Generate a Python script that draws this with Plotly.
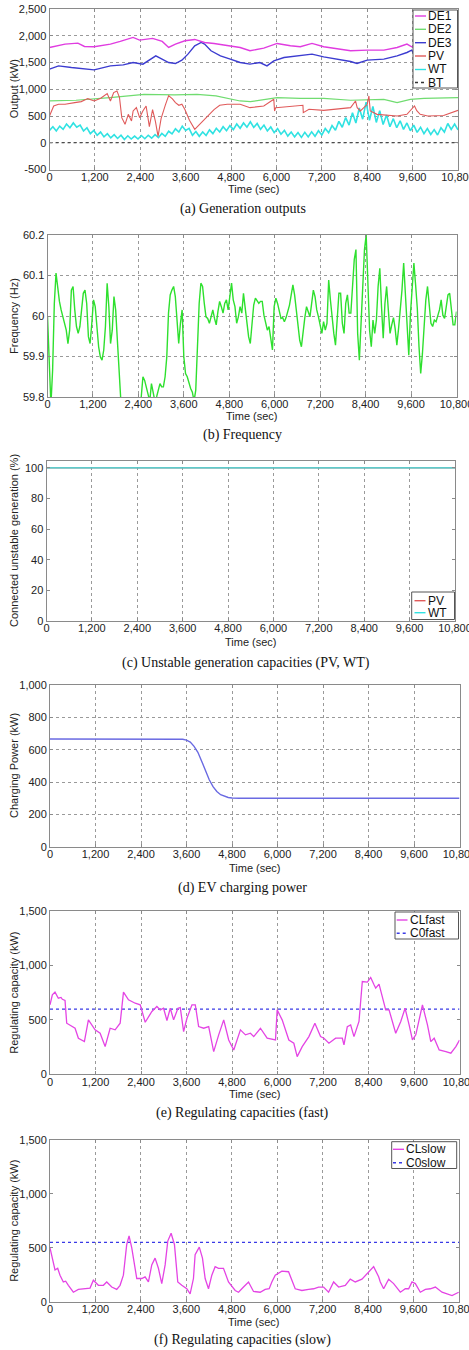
import plotly.graph_objects as go

W, H = 469, 1350

# ---------------- shared time axis ----------------
time_ticks = [0, 1200, 2400, 3600, 4800, 6000, 7200, 8400, 9600, 10800]
time_labels = ["0", "1,200", "2,400", "3,600", "4,800", "6,000", "7,200", "8,400", "9,600", "10,800"]

# ---------------- (a) Generation outputs ----------------
de1_t = [0, 410, 750, 925, 1180, 1610, 1870, 2170, 2210, 2380, 2725, 2980, 3150, 3330, 3580, 3840,
         4100, 4350, 4700, 5040, 5300, 5665, 6018, 6370, 6630, 6940, 7250, 7600, 7960, 8400, 8840,
         9190, 9450, 9577, 9800, 10200, 10800]
de1_kw = [1781, 1844, 1862, 1800, 1794, 1844, 1894, 1950, 1969, 1919, 1950, 1894, 1781, 1844, 1906, 1931,
          1875, 1856, 1812, 1781, 1719, 1769, 1856, 1812, 1794, 1856, 1794, 1750, 1719, 1731, 1731,
          1781, 1844, 1794, 1810, 1800, 1810]

de2_t = [0, 700, 1600, 2500, 3300, 3900, 4400, 5040, 5313, 6018, 6630, 7250, 7960, 8840, 9190, 9540,
         9900, 10400, 10800]
de2_kw = [781, 794, 844, 906, 894, 906, 875, 781, 769, 844, 831, 831, 794, 812, 750, 812,
          831, 844, 844]

de3_t = [0, 240, 580, 925, 1180, 1610, 1950, 2210, 2470, 2810, 3150, 3330, 3500, 3660, 3840, 4010,
         4100, 4270, 4520, 4780, 5040, 5300, 5560, 5750, 5930, 6200, 6630, 6940, 7250, 7600, 7960,
         8130, 8400, 8840, 9190, 9450, 9577, 9630, 10000, 10800]
de3_kw = [1375, 1437, 1406, 1375, 1362, 1437, 1456, 1500, 1469, 1625, 1500, 1481, 1544, 1656, 1812, 1875,
          1844, 1719, 1625, 1562, 1500, 1469, 1500, 1437, 1531, 1594, 1625, 1656, 1606, 1562, 1519,
          1481, 1544, 1562, 1625, 1687, 1731, 1669, 1650, 1650]

pv_t = [0, 51, 111, 240, 411, 668, 840, 1011, 1183, 1354, 1525, 1611, 1697, 1783, 1851, 1911, 1997,
        2083, 2168, 2211, 2297, 2382, 2468, 2554, 2640, 2725, 2800, 2870, 2950, 3060, 3150, 3250,
        3330, 3420, 3500, 3580, 3700, 3840, 4100, 4350, 4500, 4700, 5040, 5300, 5665, 5930, 5950,
        5980, 6200, 6630, 6700, 6710, 6860, 7250, 7600, 7960, 8090, 8135, 8220, 8400, 8445, 8480,
        8660, 9190, 9450, 9650, 9710, 9800, 10000, 10420, 10800]
pv_kw = [500, 594, 687, 719, 719, 750, 769, 825, 781, 831, 919, 781, 937, 969, 844, 469, 344,
         531, 406, 594, 656, 469, 594, 687, 300, 620, 400, 120, 450, 700, 880, 820,
         750, 700, 720, 620, 420, 250, 440, 620, 700, 719, 719, 656, 687, 812, 594,
         656, 669, 687, 700, 562, 625, 606, 625, 656, 781, 656, 594, 719, 875, 594,
         531, 500, 531, 687, 600, 531, 500, 510, 606]

wt_step = 90
wt_kw = [230, 300, 220, 310, 250, 350, 280, 370, 290, 330, 220, 280, 170, 230, 140, 200, 110, 170,
         90, 150, 80, 140, 60, 130, 70, 125, 70, 135, 75, 140, 85, 150, 95, 175, 120, 215,
         165, 260, 200, 310, 230, 270, 140, 210, 120, 200, 135, 240, 170, 270, 200, 300, 225, 320,
         245, 350, 270, 370, 290, 390, 285, 360, 250, 330, 220, 295, 190, 265, 160, 230, 125, 200,
         110, 190, 100, 195, 110, 205, 120, 225, 145, 265, 185, 320, 235, 400, 290, 470, 330, 560,
         370, 650, 440, 760, 420, 680, 380, 600, 340, 520, 300, 450, 280, 410, 250, 370, 225, 330,
         195, 290, 170, 265, 155, 245, 145, 280, 200, 360, 250, 350, 240]

bt_t = [0, 10800]
bt_kw = [0, 0]

# ---------------- (b) Frequency ----------------
freq_step = 45
freq_hz = [60.0, 59.899, 59.78, 59.866, 60.031, 60.106, 60.064, 60.036, 60.015, 59.998,
           59.982, 59.965, 59.932, 59.965, 60.064, 60.073, 60.015, 59.974, 59.957, 59.974,
           60.015, 60.056, 60.064, 60.031, 59.949, 59.932, 59.982, 60.040, 60.023, 59.974,
           59.924, 59.899, 59.891, 59.916, 59.974, 60.081, 60.023, 59.932, 59.965, 60.048,
           60.015, 59.940, 59.817, 59.75, 59.72, 59.70, 59.68, 59.70, 59.72, 59.71,
           59.69, 59.70, 59.72, 59.74, 59.76, 59.80, 59.850, 59.841, 59.825, 59.808,
           59.79, 59.833, 59.808, 59.79, 59.80, 59.817, 59.833, 59.825, 59.825, 59.850,
           59.899, 60.007, 60.052, 60.064, 60.073, 60.048, 59.998, 59.932, 59.982, 60.015,
           59.899, 59.858, 59.850, 59.833, 59.821, 59.812, 59.79, 59.817, 59.940, 60.031,
           60.081, 60.073, 60.031, 59.998, 59.994, 59.982, 59.998, 60.015, 59.994, 59.978,
           60.011, 60.036, 60.023, 60.007, 60.031, 60.040, 60.015, 60.048, 60.081, 60.040,
           60.023, 59.982, 59.998, 60.023, 60.007, 60.056, 60.023, 59.982, 59.949, 59.932,
           59.982, 60.027, 60.044, 60.036, 60.031, 60.036, 60.036, 60.002, 59.982, 59.965,
           59.974, 59.949, 59.916, 60.023, 60.044, 60.031, 60.011, 59.994, 59.996, 59.986,
           59.996, 60.011, 60.027, 60.052, 60.077, 60.052, 60.011, 59.969, 59.940, 59.924,
           59.965, 59.996, 60.023, 60.007, 59.998, 60.031, 60.064, 60.048, 60.015, 59.998,
           59.980, 59.957, 59.986, 59.965, 59.982, 60.089, 60.040, 59.990, 59.957, 59.928,
           59.990, 60.056, 60.056, 59.982, 59.957, 60.031, 60.052, 60.007, 60.007, 60.064,
           60.139, 60.164, 59.957, 59.891, 59.974, 60.048, 60.164, 60.200, 60.073, 59.965,
           59.924, 59.990, 59.957, 59.990, 60.073, 60.118, 60.023, 59.945, 60.031, 60.073,
           60.015, 59.957, 59.978, 59.996, 59.969, 59.928, 59.969, 60.015, 60.064, 60.131,
           60.048, 59.965, 59.903, 60.007, 60.073, 60.131, 60.077, 60.019, 59.924, 59.858,
           59.907, 59.974, 60.040, 60.073, 60.015, 59.982, 59.974, 59.990, 59.986, 59.998,
           60.015, 60.040, 60.002, 59.994, 60.031, 60.052, 60.056, 60.023, 59.978, 59.978,
           60.011]

# ---------------- (c) Unstable generation capacities ----------------
cap_t = [0, 10800]
cap_pv = [100, 100]
cap_wt = [100, 100]

# ---------------- (d) EV charging power ----------------
ev_t = [0, 3000, 3500, 3600, 3700, 3800, 3900, 4000, 4100, 4200, 4300, 4400, 4500, 4600, 4700,
        4800, 5000, 10800]
ev_kw = [667, 667, 666, 660, 648, 622, 585, 530, 470, 415, 372, 342, 322, 311, 305,
         302, 300, 300]

# ---------------- (e) Regulating capacities (fast) ----------------
clf_t = [0, 62, 132, 220, 291, 326, 396, 441, 661, 749, 907, 1013, 1189, 1322, 1454, 1586, 1718,
         1850, 1938, 2070, 2247, 2379, 2511, 2687, 2819, 2907, 2995, 3084, 3172, 3260, 3374, 3436,
         3524, 3612, 3744, 3832, 3920, 4053, 4185, 4317, 4449, 4581, 4713, 4846, 5022, 5155, 5286,
         5374, 5550, 5727, 5947, 5991, 6123, 6299, 6431, 6519, 6652, 6828, 6986, 7136, 7224, 7356,
         7533, 7709, 7753, 7841, 7929, 8017, 8149, 8237, 8370, 8458, 8546, 8590, 8678, 8766, 8854,
         8942, 9118, 9251, 9365, 9471, 9559, 9647, 9823, 9955, 10043, 10132, 10264, 10440, 10572,
         10704, 10800]
clf_kw = [640, 731, 756, 700, 707, 690, 680, 470, 424, 332, 301, 500, 409, 378, 255, 424, 409,
          470, 756, 685, 654, 639, 479, 578, 624, 593, 608, 495, 608, 501, 608, 614,
          393, 516, 639, 639, 439, 424, 439, 209, 363, 501, 316, 224, 409, 363, 378,
          347, 424, 332, 316, 593, 501, 316, 286, 163, 255, 347, 470, 347, 332, 286,
          332, 332, 270, 439, 455, 347, 486, 854, 848, 891, 824, 793, 830, 716, 593,
          593, 378, 486, 608, 455, 316, 363, 639, 455, 301, 332, 224, 209, 194,
          255, 316]
c0f_t = [0, 10800]
c0f_kw = [600, 600]

# ---------------- (f) Regulating capacities (slow) ----------------
cls_t = [0, 62, 132, 203, 264, 352, 414, 485, 617, 749, 925, 1057, 1145, 1278, 1410, 1498, 1630,
         1762, 1850, 1938, 2026, 2088, 2159, 2291, 2423, 2511, 2599, 2687, 2775, 2863, 2951, 3040,
         3110, 3198, 3286, 3374, 3480, 3612, 3700, 3788, 3832, 3942, 4026, 4097, 4185, 4273, 4361,
         4449, 4581, 4713, 4890, 4978, 5110, 5242, 5374, 5550, 5682, 5788, 5858, 5947, 6123, 6299,
         6475, 6652, 6828, 6960, 7092, 7224, 7356, 7489, 7621, 7797, 7929, 8061, 8237, 8370, 8546,
         8678, 8722, 8810, 8942, 9074, 9251, 9383, 9471, 9559, 9647, 9779, 9911, 10043, 10176,
         10352, 10484, 10616, 10792]
cls_kw = [499, 389, 294, 310, 246, 183, 190, 152, 88, 114, 120, 126, 199, 152, 152, 183, 136,
          114, 152, 246, 531, 610, 499, 215, 215, 231, 183, 341, 404, 310, 168, 341,
          562, 635, 531, 183, 152, 120, 73, 215, 436, 506, 404, 215, 120, 246, 325,
          310, 310, 183, 104, 88, 136, 183, 95, 88, 114, 120, 183, 246, 284, 278,
          120, 104, 114, 120, 136, 136, 88, 183, 136, 152, 209, 183, 209, 262, 325,
          231, 183, 120, 209, 168, 88, 120, 120, 183, 168, 88, 114, 120, 136,
          88, 73, 57, 88, 152]
c0s_t = [0, 10800]
c0s_kw = [550, 550]

# ---------------- y tick labels ----------------
ya_vals = [-500, 0, 500, 1000, 1500, 2000, 2500]
ya_text = ["-500", "0", "500", "1,000", "1,500", "2,000", "2,500"]
yb_vals = [59.8, 59.9, 60.0, 60.1, 60.2]
yb_text = ["59.8", "59.9", "60", "60.1", "60.2"]
yc_vals = [0, 20, 40, 60, 80, 100]
yc_text = ["0", "20", "40", "60", "80", "100"]
yd_vals = [0, 200, 400, 600, 800, 1000]
yd_text = ["0", "200", "400", "600", "800", "1,000"]
ye_vals = [0, 500, 1000, 1500]
ye_text = ["0", "500", "1,000", "1,500"]

# ---------------- styling ----------------
C_DE1, C_DE2, C_DE3 = "#e03ce0", "#70dc70", "#3c3cd0"
C_PV, C_WT, C_BT = "#e05a5a", "#30e2e2", "#333333"
C_FREQ = "#2ee02e"
C_EV = "#6a6ae2"
C_CL, C_C0 = "#e444e4", "#3a3ae6"

SANS = "Liberation Sans, Arial, sans-serif"
SERIF = "Liberation Serif, Times New Roman, serif"
TXT = "#222222"

def fx(p):
    return p / W

def fy(p):
    return 1 - p / H

# panel geometry in pixels: (x0, x1), (ytop, ybottom)
panels = [
    ((49.5, 458.0), (9.0, 169.5), [-500, 2500], ya_vals, ya_text, True, "Output (kW)", 189, "(a) Generation outputs", 209),
    ((47.5, 456.5), (235.0, 397.0), [59.8, 60.2], yb_vals, yb_text, True, "Frequency (Hz)", 416, "(b) Frequency", 435),
    ((46.5, 455.0), (461.0, 621.0), [0, 104.5], yc_vals, yc_text, False, "Connected unstable generation (%)", 642, "(c) Unstable generation capacities (PV, WT)", 663),
    ((50.0, 459.5), (685.3, 846.7), [0, 1000], yd_vals, yd_text, True, "Charging Power (kW)", 867.5, "(d) EV charging power", 888),
    ((50.0, 459.5), (911.3, 1074.3), [0, 1500], ye_vals, ye_text, False, "Regulating capacity (kW)", 1094, "(e) Regulating capacities (fast)", 1113),
    ((50.0, 459.0), (1140.0, 1301.7), [0, 1500], ye_vals, ye_text, False, "Regulating capacity (kW)", 1322, "(f) Regulating capacities (slow)", 1340),
]

fig = go.Figure()
layout = dict(template="none", width=W, height=H, autosize=False,
              margin=dict(l=0, r=0, t=0, b=0, pad=0),
              paper_bgcolor="white", plot_bgcolor="white", showlegend=False,
              font=dict(family=SANS, size=11, color=TXT))
annotations = []
shapes = []

for i, (xp, yp, yr, yv, yt, ygrid, ytitle, xtitle_y, caption, cap_y) in enumerate(panels, start=1):
    xn = "xaxis" if i == 1 else f"xaxis{i}"
    yn = "yaxis" if i == 1 else f"yaxis{i}"
    xr = "x" if i == 1 else f"x{i}"
    yref = "y" if i == 1 else f"y{i}"
    layout[xn] = dict(domain=[fx(xp[0]), fx(xp[1])], range=[0, 10800], anchor=yref,
                      automargin=False, tickvals=time_ticks, ticktext=time_labels, tickangle=0,
                      ticklabeloverflow="allow", ticklabelstandoff=-3,
                      showgrid=True, gridcolor="#9a9a9a", griddash="dot", gridwidth=1,
                      zeroline=False, showline=True, linecolor="#8a8a8a", linewidth=1,
                      mirror="ticks", ticks="inside", ticklen=3, tickcolor="#8a8a8a",
                      tickfont=dict(family=SANS, size=11, color=TXT), fixedrange=True)
    layout[yn] = dict(domain=[fy(yp[1]), fy(yp[0])], range=yr, anchor=xr,
                      automargin=False, tickvals=yv, ticktext=yt, ticklabeloverflow="allow",
                      showgrid=ygrid, gridcolor="#9a9a9a", griddash="dot", gridwidth=1,
                      zeroline=False, showline=True, linecolor="#8a8a8a", linewidth=1,
                      mirror="ticks", ticks="inside", ticklen=3, tickcolor="#8a8a8a",
                      tickfont=dict(family=SANS, size=11, color=TXT), fixedrange=True)
    xc = (xp[0] + xp[1]) / 2
    annotations.append(dict(text=ytitle, textangle=-90, xref="paper", yref="paper",
                            x=fx(14), y=fy((yp[0] + yp[1]) / 2), xanchor="center", yanchor="middle",
                            showarrow=False, font=dict(family=SANS, size=11, color=TXT)))
    annotations.append(dict(text="Time (sec)", xref="paper", yref="paper",
                            x=fx(xc), y=fy(xtitle_y), xanchor="center", yanchor="middle",
                            showarrow=False, font=dict(family=SANS, size=11, color=TXT)))
    annotations.append(dict(text=caption, xref="paper", yref="paper",
                            x=fx(243 if i != 3 else 246), y=fy(cap_y), xanchor="center", yanchor="middle",
                            showarrow=False, font=dict(family=SERIF, size=14, color="#111111")))

def line(x, y, color, i, width=1.2, dash=None, name=None):
    xr = "x" if i == 1 else f"x{i}"
    yr = "y" if i == 1 else f"y{i}"
    fig.add_trace(go.Scatter(x=x, y=y, mode="lines", name=name, xaxis=xr, yaxis=yr,
                             line=dict(color=color, width=width, dash=dash), hoverinfo="skip"))

# (a)
wt_t = [k * wt_step for k in range(len(wt_kw))]
line(bt_t, bt_kw, C_BT, 1, 1, "dot", "BT")
line(wt_t, wt_kw, C_WT, 1, 1.6, None, "WT")
line(de2_t, de2_kw, C_DE2, 1, 1.2, None, "DE2")
line(pv_t, pv_kw, C_PV, 1, 1.1, None, "PV")
line(de3_t, de3_kw, C_DE3, 1, 1.4, None, "DE3")
line(de1_t, de1_kw, C_DE1, 1, 1.4, None, "DE1")
# (b)
freq_t = [k * freq_step for k in range(len(freq_hz))]
line(freq_t, freq_hz, C_FREQ, 2, 1.4)
# (c)
line(cap_t, cap_pv, C_PV, 3, 1.2, None, "PV")
line(cap_t, cap_wt, C_WT, 3, 1.2, None, "WT")
# (d)
line(ev_t, ev_kw, C_EV, 4, 1.4)
# (e)
line(c0f_t, c0f_kw, C_C0, 5, 1.2, "dot", "C0fast")
line(clf_t, clf_kw, C_CL, 5, 1.3, None, "CLfast")
# (f)
line(c0s_t, c0s_kw, C_C0, 6, 1.2, "dot", "C0slow")
line(cls_t, cls_kw, C_CL, 6, 1.3, None, "CLslow")

# ---------------- legends (boxed, MATLAB style) ----------------
def legend_box(x0, x1, y0, y1, items, lx0, lx1, tx, fsize):
    shapes.append(dict(type="rect", xref="paper", yref="paper", layer="above",
                       x0=fx(x0), x1=fx(x1), y0=fy(y1), y1=fy(y0),
                       line=dict(color="#555555", width=1), fillcolor="white"))
    for (label, color, dash, yc) in items:
        shapes.append(dict(type="line", xref="paper", yref="paper", layer="above",
                           x0=fx(lx0), x1=fx(lx1), y0=fy(yc), y1=fy(yc),
                           line=dict(color=color, width=1.4, dash=dash)))
        annotations.append(dict(text=label, xref="paper", yref="paper", x=fx(tx), y=fy(yc),
                                xanchor="left", yanchor="middle", showarrow=False, borderpad=0,
                                font=dict(family=SANS, size=fsize, color="#111111")))

legend_box(413, 457.5, 10, 88,
           [("DE1", C_DE1, None, 16), ("DE2", C_DE2, None, 29.3), ("DE3", C_DE3, None, 42.7),
            ("PV", C_PV, None, 56), ("WT", C_WT, None, 69.5), ("BT", C_BT, "dot", 82.5)],
           415, 426, 426.5, 12)
legend_box(411.7, 454.5, 592, 619.5,
           [("PV", C_PV, None, 600.7), ("WT", C_WT, None, 612.7)],
           414.5, 425.5, 426.5, 12)
legend_box(395, 458.5, 912, 939,
           [("CLfast", C_CL, None, 920), ("C0fast", C_C0, "dot", 933.3)],
           396.7, 407.5, 408.5, 12)
legend_box(391.7, 456.7, 1141.7, 1168.5,
           [("CLslow", C_CL, None, 1149.3), ("C0slow", C_C0, "dot", 1162.7)],
           393, 404, 405, 12)

layout["annotations"] = annotations
layout["shapes"] = shapes
fig.update_layout(**layout)

# place the figure flush with the page corner (no default body margin), like the original image
flush_js = ("document.documentElement.style.margin='0';document.documentElement.style.overflow='hidden';"
            "document.body.style.margin='0';document.body.style.overflow='hidden';")
fig.write_html("out.html", config={"displayModeBar": False}, post_script=flush_js)
